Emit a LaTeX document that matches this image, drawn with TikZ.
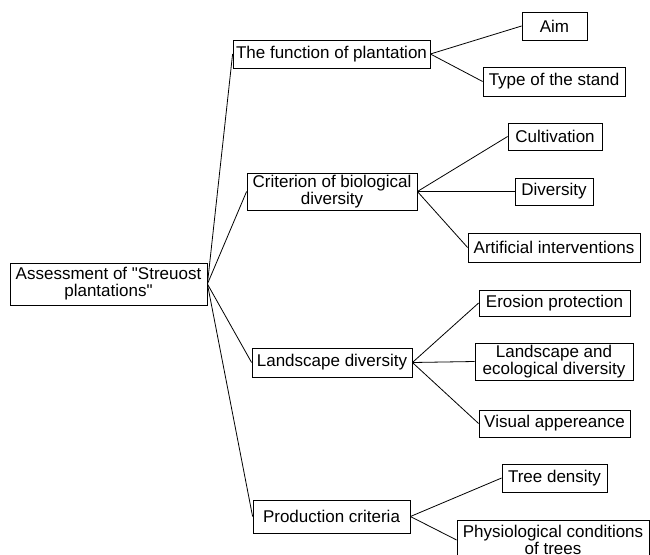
\documentclass[tikz,border=0pt]{standalone}
\usepackage{fontspec}
\setmainfont{Liberation Sans}[Ligatures=TeXOff]
\begin{document}
\begin{tikzpicture}[x=1pt,y=-1pt,
  box/.style={draw=black, line width=0.8pt, inner sep=0pt, align=center,
    font=\fontsize{17}{17}\selectfont},
  link/.style={draw=black, line width=0.8pt}]
\clip (0,0) rectangle (650,554);
\fill[white] (0,0) rectangle (650,554);
% root
\node[box, minimum width=197pt, minimum height=42pt] (root) at (108.5,284) {Assessment of "Streuost\\plantations"};
% level 2
\node[box, minimum width=197pt, minimum height=28pt] (func) at (331.5,54) {The function of plantation};
\node[box, minimum width=170pt, minimum height=37pt] (crit) at (332,191.5) {Criterion of biological\\diversity};
\node[box, minimum width=160pt, minimum height=29pt] (land) at (332,362.5) {Landscape diversity};
\node[box, minimum width=157pt, minimum height=33pt] (prod) at (331.5,516.5) {Production criteria};
% level 3
\node[box, minimum width=65pt, minimum height=28pt] (aim) at (554.5,26) {Aim};
\node[box, minimum width=142pt, minimum height=29pt] (type) at (554,81.5) {Type of the stand};
\node[box, minimum width=94pt, minimum height=27pt] (cult) at (555,136.5) {Cultivation};
\node[box, minimum width=78pt, minimum height=27pt] (div) at (554,191.5) {Diversity};
\node[box, minimum width=172pt, minimum height=29pt] (art) at (554,247.5) {Artificial interventions};
\node[box, minimum width=151pt, minimum height=26pt] (eros) at (554.5,303) {Erosion protection};
\node[box, minimum width=158pt, minimum height=37pt] (leco) at (554,361.5) {Landscape and\\ecological diversity};
\node[box, minimum width=151pt, minimum height=27pt] (vis) at (554.5,423.5) {Visual appereance};
\node[box, minimum width=105pt, minimum height=28pt] (tree) at (554.5,478) {Tree density};
\node[box, minimum width=192pt, minimum height=40pt] (phys) at (553,540) {Physiological conditions\\of trees};
% connectors
\foreach \c in {func,crit,land,prod} \draw[link] (root.east) -- (\c.west);
\foreach \c in {aim,type} \draw[link] (func.east) -- (\c.west);
\foreach \c in {cult,div,art} \draw[link] (crit.east) -- (\c.west);
\foreach \c in {eros,leco,vis} \draw[link] (land.east) -- (\c.west);
\foreach \c in {tree,phys} \draw[link] (prod.east) -- (\c.west);
\end{tikzpicture}
\end{document}
